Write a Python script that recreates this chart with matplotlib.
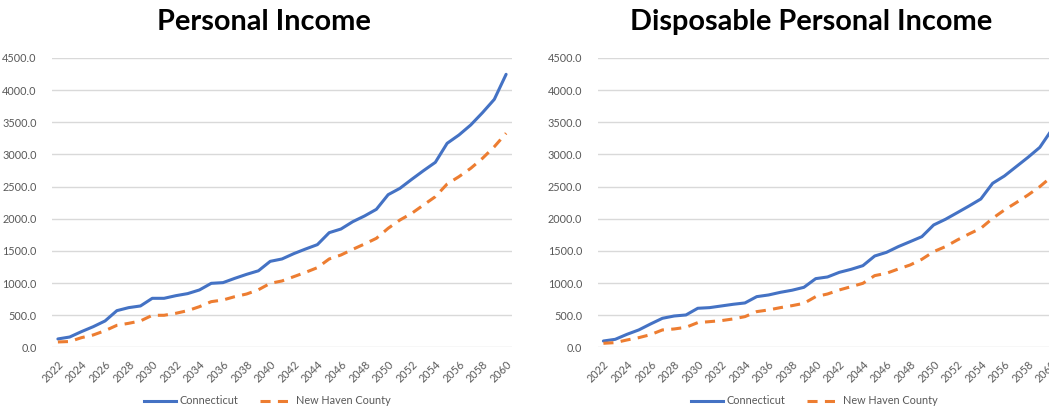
import matplotlib
matplotlib.use("Agg")
import matplotlib.pyplot as plt
from matplotlib.lines import Line2D

years = list(range(2022, 2061))

personal_ct = [130, 160, 244, 321, 410, 570, 617, 643, 762, 762, 803, 835, 892, 995,
               1006, 1073, 1135, 1190, 1337, 1374, 1457, 1529, 1597, 1783, 1840, 1954,
               2043, 2146, 2374, 2473, 2613, 2748, 2877, 3173, 3302, 3458, 3650, 3857, 4246]
personal_nh = [83, 90, 150, 192, 259, 342, 373, 410, 498, 498, 529, 570, 632, 710,
               736, 788, 829, 895, 995, 1032, 1099, 1166, 1239, 1374, 1436, 1524,
               1607, 1695, 1851, 1980, 2084, 2214, 2343, 2540, 2654, 2784, 2940, 3120, 3330]
disposable_ct = [98, 124, 202, 270, 363, 451, 487, 503, 607, 617, 643, 669, 690, 788,
                 814, 855, 888, 933, 1068, 1094, 1166, 1213, 1270, 1420, 1477, 1566,
                 1643, 1721, 1903, 1991, 2094, 2198, 2307, 2551, 2665, 2810, 2955, 3110, 3380]
disposable_nh = [62, 73, 114, 150, 197, 270, 285, 311, 384, 399, 415, 441, 477, 555,
                 581, 617, 648, 684, 788, 829, 892, 943, 995, 1115, 1151, 1218,
                 1280, 1369, 1488, 1566, 1669, 1763, 1851, 2006, 2136, 2250, 2369, 2499, 2654]

series_names = ["Connecticut", "New Haven County"]
titles = ["Personal Income", "Disposable Personal Income"]
y_ticks = [0, 500, 1000, 1500, 2000, 2500, 3000, 3500, 4000, 4500]
x_ticks = years[::2]

BLUE = "#4472C4"
ORANGE = "#ED7D31"
GRID = "#D9D9D9"
TEXT = "#595959"

plt.rcParams["font.family"] = ["Lato", "DejaVu Sans"]

W, H = 1049, 408
fig = plt.figure(figsize=(W / 100, H / 100), dpi=100)

panels = [
    dict(left=52, title_x=264, legend_x=267, ct=personal_ct, nh=personal_nh, title=titles[0]),
    dict(left=597.5, title_x=811, legend_x=814, ct=disposable_ct, nh=disposable_nh, title=titles[1]),
]

ax_bottom_px = 347.3
ax_top_px = 58.0
ax_width_px = 460.0
tick_size = 7.8

for p in panels:
    ax = fig.add_axes([p["left"] / W, 1 - ax_bottom_px / H, ax_width_px / W,
                       (ax_bottom_px - ax_top_px) / H])
    ax.plot(years, p["ct"], color=BLUE, lw=2.2, solid_capstyle="round",
            solid_joinstyle="round", label=series_names[0], zorder=3)
    ax.plot(years, p["nh"], color=ORANGE, lw=2.2, dashes=(3.3, 2.4),
            dash_capstyle="butt", label=series_names[1], zorder=3)
    ax.set_xlim(2021.5, 2060.5)
    ax.set_ylim(0, 4500)
    ax.set_yticks(y_ticks)
    ax.set_yticklabels([f"{v:.1f}" for v in y_ticks])
    ax.set_xticks(x_ticks)
    ax.set_xticklabels([str(y) for y in x_ticks], rotation=45, ha="right",
                       va="top", rotation_mode="anchor")
    ax.tick_params(axis="both", length=0, colors=TEXT, labelsize=tick_size)
    ax.tick_params(axis="y", pad=11)
    ax.tick_params(axis="x", pad=8)
    ax.grid(axis="y", color=GRID, lw=1.0)
    ax.set_axisbelow(True)
    for s in ax.spines.values():
        s.set_visible(False)
    ax.patch.set_alpha(0)

    fig.text(p["title_x"] / W, 1 - 22 / H, p["title"], ha="center", va="center",
             fontsize=20.8, fontweight="bold", color="black")

    handles = [Line2D([], [], color=BLUE, lw=2.2),
               Line2D([], [], color=ORANGE, lw=2.2, dashes=(3.3, 2.4))]
    fig.legend(handles, series_names, loc="center", ncol=2,
               bbox_to_anchor=(p["legend_x"] / W, 1 - 401 / H), frameon=False,
               fontsize=tick_size, labelcolor=TEXT, handlelength=3.0, handletextpad=0.3,
               columnspacing=2.0)

fig.savefig("out.png", dpi=100, facecolor="white")
